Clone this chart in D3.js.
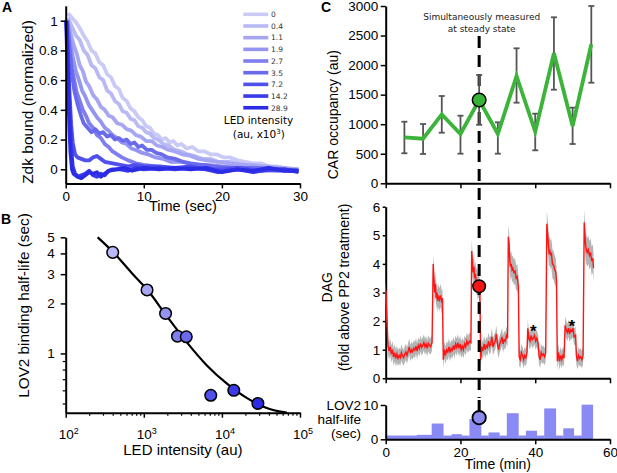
<!DOCTYPE html>
<html><head><meta charset="utf-8">
<script src="https://cdn.jsdelivr.net/npm/d3@7"></script>
<style>body{margin:0;background:#fff} svg{display:block}</style>
</head><body><svg id="c" width="617" height="473"></svg>
<script>
// ---------- DATA ----------
const ledLabels = ["0","0.4","1.1","1.9","2.7","3.5","7.2","14.2","28.9"];
const ledColors = ["#cacaf7","#b9b9f5","#a6a6f3","#9494f1","#7e7eef","#6a6aed","#5050eb","#3a3ae8","#2c2ce6"];
const decay0 = [[0.3,1.05],[0.8,1.02],[1.3,0.99],[1.8,0.95],[2.3,0.9],[2.8,0.86],[3.3,0.8],[3.8,0.78],[4.3,0.72],[4.8,0.7],[5.3,0.64],[5.8,0.62],[6.3,0.56],[6.8,0.54],[7.3,0.48],[7.8,0.46],[8.3,0.41],[8.8,0.39],[9.3,0.35],[9.8,0.33],[10.3,0.29],[10.8,0.28],[11.3,0.24],[11.8,0.23],[12.3,0.2],[12.8,0.21],[13.3,0.18],[13.8,0.19],[14.3,0.16],[14.8,0.17],[15.5,0.14],[16.2,0.15],[17,0.12],[17.8,0.12],[18.6,0.1],[19.4,0.1],[20.2,0.08],[21,0.08],[22,0.06],[23,0.05],[24,0.04],[25,0.04],[26,0.02],[27,0.02],[28,0.01],[29,0.0],[29.8,0.0]];
const decay1 = [[0.3,1.02],[0.8,0.96],[1.3,0.9],[1.8,0.87],[2.3,0.8],[2.8,0.77],[3.3,0.7],[3.8,0.68],[4.3,0.62],[4.8,0.6],[5.3,0.53],[5.8,0.51],[6.3,0.46],[6.8,0.44],[7.3,0.39],[7.8,0.38],[8.3,0.34],[8.8,0.33],[9.3,0.29],[9.8,0.28],[10.3,0.25],[10.8,0.24],[11.3,0.21],[11.8,0.2],[12.5,0.17],[13.2,0.16],[14,0.13],[14.8,0.12],[15.6,0.1],[16.5,0.09],[17.5,0.07],[18.5,0.07],[19.5,0.05],[21,0.05],[22.5,0.03],[24,0.03],[26,0.02],[28,0.01],[29.8,0.0]];
const decay2 = [[0.2,1.0],[0.6,0.92],[1.0,0.84],[1.4,0.78],[1.8,0.7],[2.2,0.66],[2.6,0.59],[3.0,0.56],[3.5,0.5],[4.0,0.47],[4.5,0.42],[5.0,0.4],[5.5,0.36],[6.0,0.35],[6.6,0.31],[7.2,0.3],[7.8,0.27],[8.4,0.26],[9.0,0.23],[9.6,0.22],[10.3,0.19],[11,0.19],[11.7,0.16],[12.4,0.15],[13.2,0.13],[14,0.12],[15,0.1],[16,0.09],[17,0.07],[18,0.06],[19.5,0.05],[21,0.04],[23,0.03],[25,0.02],[27,0.01],[29.8,0.0]];
const decay3 = [[0.2,1.0],[0.5,0.88],[0.9,0.76],[1.3,0.66],[1.7,0.6],[2.1,0.53],[2.5,0.49],[3.0,0.43],[3.5,0.39],[4.0,0.35],[4.5,0.32],[5.0,0.28],[5.5,0.26],[6.0,0.23],[6.6,0.21],[7.2,0.18],[7.8,0.17],[8.4,0.14],[9.0,0.13],[9.8,0.11],[10.6,0.1],[11.5,0.08],[12.5,0.07],[13.5,0.05],[15,0.05],[16.5,0.03],[18,0.03],[20,0.02],[23,0.01],[26,0.01],[29.8,-0.01]];
const decay4 = [[0.2,1.0],[0.5,0.82],[0.8,0.68],[1.1,0.6],[1.4,0.52],[1.8,0.46],[2.2,0.4],[2.6,0.36],[3.0,0.31],[3.5,0.28],[4.0,0.23],[4.5,0.21],[5.0,0.17],[5.5,0.15],[6.0,0.12],[6.6,0.1],[7.2,0.08],[8.0,0.06],[9.0,0.04],[10,0.03],[11.5,0.02],[13,0.01],[16,0.01],[20,0.0],[24,0.0],[27,-0.01],[29.8,-0.01]];
const decay5 = [[0.2,1.0],[0.5,0.8],[0.8,0.64],[1.1,0.53],[1.5,0.44],[1.9,0.37],[2.3,0.31],[2.8,0.28],[3.3,0.25],[3.8,0.27],[4.3,0.24],[4.8,0.25],[5.3,0.22],[5.8,0.23],[6.3,0.2],[6.8,0.21],[7.3,0.19],[7.8,0.2],[8.3,0.17],[8.8,0.18],[9.3,0.15],[9.8,0.16],[10.4,0.13],[11,0.13],[11.6,0.11],[12.3,0.1],[13,0.08],[14,0.07],[15,0.05],[16,0.04],[17.5,0.03],[19,0.02],[21,0.01],[24,0.01],[27,0.0],[29.8,-0.01]];
const decay6 = [[0.1,1.0],[0.3,0.75],[0.5,0.5],[0.7,0.3],[0.9,0.18],[1.2,0.1],[1.5,0.08],[2.0,0.07],[2.5,0.06],[3.0,0.06],[3.5,0.08],[4.0,0.09],[4.5,0.07],[5.0,0.05],[6.0,0.04],[7.0,0.03],[8.0,0.02],[9,0.03],[10,0.02],[12,0.02],[14,0.01],[16,0.02],[18,0.0],[20,0.0],[22,0.01],[25,-0.01],[28,0.0],[29.8,-0.01]];
const decay7 = [[0.1,1.0],[0.3,0.7],[0.5,0.4],[0.7,0.15],[0.9,0.02],[1.2,-0.03],[1.6,-0.05],[2.0,-0.04],[2.5,-0.03],[3.0,-0.01],[3.5,-0.04],[4.0,-0.05],[4.5,-0.03],[5.0,-0.04],[5.5,-0.01],[6,0.0],[7,0.0],[8,-0.01],[9,0.01],[10,0.0],[12,0.01],[14,0.0],[16,0.01],[18,0.0],[19.5,-0.02],[20.5,-0.01],[22,0.0],[24,-0.02],[26,0.0],[28,0.0],[29.8,-0.02]];
const decay8 = [[0.05,1.0],[0.2,0.75],[0.4,0.4],[0.6,0.12],[0.8,0.0],[1.0,-0.03],[1.5,-0.05],[2.0,-0.06],[2.5,-0.04],[3.0,-0.02],[3.5,-0.03],[4.0,-0.02],[4.5,-0.05],[5.0,-0.03],[5.5,-0.01],[6.5,0.0],[7.5,0.01],[8.5,-0.01],[10,0.01],[12,0.0],[14,0.01],[16,0.0],[18,0.01],[20,-0.02],[22,0.0],[24,-0.01],[26,0.01],[28,-0.01],[29.8,-0.01]];
const decayCurves = [decay0,decay1,decay2,decay3,decay4,decay5,decay6,decay7,decay8];

const ledIntensity = [400,1100,1900,2700,3500,7200,14200,28900];
const halfLife = [4.06,2.41,1.74,1.27,1.26,0.56,0.60,0.50];
const fitLED = [257,400,700,1122,1963,3540,6380,11500,20750,37500,67600];
const fitHalfLife = [5.0,4.1,3.05,2.4,1.68,1.17,0.85,0.66,0.54,0.47,0.44];

const carTime = [5,10,15,20,25,30,35,40,45,50,55];
const carMean = [778,755,1167,834,1409,834,1816,873,2200,970,2352];
const carHi = [1042,1003,1477,1144,1832,1032,2284,1178,2809,1280,3000];
const carLo = [508,496,856,501,990,501,1364,558,1584,665,1702];

const dagTrace = [[0,3.1,0.3],[0.3,2.2,0.3],[0.6,1.15,0.3],[0.9,0.95,0.3],[1.2,1.1,0.3],[1.5,0.85,0.3],[1.8,1.0,0.3],[2.1,0.75,0.3],[2.4,0.9,0.3],[2.7,0.7,0.3],[3.0,0.85,0.3],[3.3,0.7,0.28],[3.6,0.8,0.28],[3.9,0.72,0.28],[4.2,0.9,0.28],[4.5,0.78,0.28],[4.8,0.72,0.28],[5.1,0.85,0.28],[5.4,0.92,0.28],[5.7,0.8,0.28],[6.0,0.95,0.28],[6.3,1.1,0.28],[6.6,0.88,0.28],[6.9,1.0,0.28],[7.2,0.93,0.28],[7.5,1.05,0.28],[7.8,0.98,0.28],[8.1,1.12,0.28],[8.4,0.95,0.28],[8.7,1.15,0.28],[9.0,1.05,0.28],[9.3,1.22,0.28],[9.6,1.08,0.28],[9.9,1.15,0.28],[10.2,1.25,0.28],[10.5,1.1,0.28],[10.8,1.2,0.28],[11.1,1.05,0.28],[11.4,1.22,0.28],[11.7,1.15,0.28],[12.0,1.1,0.28],[12.4,1.25,0.28],
[12.7,4.0,0.35],[12.9,3.5,0.4],[13.1,3.0,0.4],[13.3,3.3,0.4],[13.5,2.8,0.4],[13.7,3.0,0.4],[13.9,2.7,0.4],[14.1,2.9,0.4],[14.4,2.75,0.4],[14.7,2.9,0.4],[15.0,2.65,0.4],[15.2,2.8,0.35],
[15.4,0.65,0.3],[15.7,1.0,0.3],[16.0,0.8,0.3],[16.3,1.0,0.3],[16.6,0.92,0.3],[16.9,1.1,0.3],[17.2,0.9,0.3],[17.5,1.05,0.3],[17.8,0.98,0.3],[18.1,1.15,0.3],[18.4,1.0,0.3],[18.7,1.2,0.3],[19.0,1.08,0.3],[19.3,1.25,0.3],[19.6,1.05,0.3],[19.9,1.2,0.3],[20.2,1.0,0.3],[20.5,1.12,0.3],[20.8,1.0,0.3],[21.1,1.2,0.3],[21.4,1.1,0.3],[21.7,1.3,0.3],[22.0,1.18,0.3],[22.4,1.3,0.3],[22.8,1.25,0.3],
[23.0,4.45,0.4],[23.2,4.0,0.45],[23.4,3.7,0.45],[23.6,3.9,0.45],[23.8,3.5,0.45],[24.0,3.65,0.45],[24.2,3.35,0.45],[24.4,3.45,0.45],[24.6,3.2,0.45],[24.8,3.3,0.45],[25.0,3.2,0.45],[25.2,3.0,0.4],
[25.4,0.65,0.3],[25.7,1.1,0.3],[26.0,0.95,0.3],[26.3,1.2,0.3],[26.6,1.0,0.3],[26.9,1.15,0.3],[27.2,1.08,0.3],[27.5,1.3,0.3],[27.8,1.12,0.3],[28.1,1.2,0.3],[28.4,1.45,0.3],[28.7,1.1,0.3],[29.0,1.22,0.3],[29.3,1.3,0.3],[29.6,1.55,0.3],[29.9,1.2,0.3],[30.2,1.0,0.3],[30.5,1.2,0.3],[30.8,1.3,0.3],[31.1,1.45,0.3],[31.4,1.2,0.3],[31.7,1.35,0.3],[32.0,1.3,0.3],[32.3,1.5,0.3],[32.6,1.4,0.3],
[32.8,4.95,0.4],[33.0,4.7,0.45],[33.2,4.1,0.45],[33.4,3.9,0.45],[33.6,4.0,0.45],[33.8,3.8,0.45],[34.0,3.85,0.45],[34.3,3.7,0.45],[34.6,3.75,0.45],[34.9,3.5,0.45],[35.2,3.55,0.45],[35.5,3.2,0.4],
[35.7,0.75,0.3],[36.0,0.65,0.3],[36.3,0.9,0.3],[36.6,0.8,0.3],[36.9,0.65,0.3],[37.2,0.8,0.3],[37.5,0.72,0.3],[37.8,0.9,0.3],
[38.0,1.75,0.3],[38.3,1.4,0.3],[38.6,1.3,0.3],[38.9,1.5,0.3],[39.2,1.35,0.3],[39.5,1.4,0.3],[39.8,1.5,0.3],[40.1,1.3,0.3],[40.4,1.4,0.3],[40.8,1.2,0.3],
[41.0,0.8,0.3],[41.3,0.65,0.3],[41.6,0.9,0.3],[41.9,0.8,0.3],[42.2,0.85,0.3],[42.5,0.75,0.3],[42.8,0.9,0.3],
[43.1,5.4,0.45],[43.3,5.1,0.5],[43.5,4.7,0.5],[43.7,4.4,0.5],[43.9,4.45,0.5],[44.1,4.3,0.5],[44.3,4.4,0.5],[44.6,4.0,0.5],[44.9,3.95,0.5],[45.2,3.8,0.5],[45.5,3.7,0.5],[45.7,3.4,0.45],
[45.9,0.6,0.3],[46.2,0.9,0.3],[46.5,0.6,0.3],[46.8,0.8,0.3],[47.1,0.65,0.3],[47.4,0.8,0.3],[47.7,0.7,0.3],
[48.0,1.85,0.3],[48.3,1.7,0.3],[48.6,1.6,0.3],[48.9,1.75,0.3],[49.2,1.55,0.3],[49.5,1.7,0.3],[49.8,1.65,0.3],[50.1,1.75,0.3],[50.4,1.45,0.3],[50.8,1.5,0.3],
[51.0,0.8,0.3],[51.3,0.6,0.3],[51.6,0.8,0.3],[51.9,0.7,0.3],[52.2,0.75,0.3],[52.5,0.65,0.3],[52.8,0.8,0.3],
[53.1,5.45,0.45],[53.3,5.0,0.5],[53.5,4.6,0.5],[53.7,4.5,0.5],[53.9,4.4,0.5],[54.2,4.5,0.5],[54.5,4.3,0.5],[54.8,4.4,0.5],[55.1,4.1,0.5],[55.4,4.2,0.5],[55.6,3.85,0.5]];
const dagMarkerValue = 3.22;
const starTime = [39.5, 49.8];
const starValue = [1.78, 1.98];

const lovStart = [0,8.3,12.3,15.4,17.65,20.3,22.4,25.5,27.5,30.4,32.4,35.5,37.5,40.4,42.4,45.5,47.5,50.3,52.4];
const lovEnd   = [8.3,12.3,15.4,17.65,20.3,22.4,25.5,27.5,30.4,32.4,35.5,37.5,40.4,42.4,45.5,47.5,50.3,52.4,55.4];
const lovValue = [1.1,1.3,4.6,1.1,1.5,1.1,5.9,1.1,2.0,1.1,7.6,1.1,2.5,1.1,9.0,1.1,3.2,1.1,10.1];
const lovMarkerValue = 6.3;
const markerTime = 25;

// ---------- DRAWING ----------
const svg = d3.select("#c");
const SANS = "'Liberation Sans', Arial, sans-serif";
const DV = "'DejaVu Sans', Verdana, sans-serif";

function styleAxis(g, fs) {
  g.attr("font-family", SANS).attr("font-size", fs);
  g.select(".domain").attr("stroke", "#000").attr("stroke-width", 2);
  g.selectAll(".tick line").attr("stroke", "#000").attr("stroke-width", 1.5);
  g.selectAll(".tick text").attr("fill", "#000");
}
function label(x, y, txt, opts = {}) {
  const t = svg.append("text").attr("x", x).attr("y", y).text(txt)
    .attr("font-family", opts.font || SANS).attr("font-size", opts.size || 15)
    .attr("text-anchor", opts.anchor || "middle").attr("fill", opts.fill || "#000");
  if (opts.weight) t.attr("font-weight", opts.weight);
  if (opts.rotate) t.attr("transform", `rotate(-90,${x},${y})`);
  return t;
}
const intFmt = d => String(d);

// Panel letters
label(2, 12, "A", {size: 14, weight: "bold", anchor: "start"});
label(1, 224, "B", {size: 14, weight: "bold", anchor: "start"});
label(321, 12, "C", {size: 14, weight: "bold", anchor: "start"});

// ===== Panel A =====
const xA = d3.scaleLinear().domain([0, 30]).range([65.7, 300]);
const yA = d3.scaleLinear().domain([-0.095, 1.1]).range([183.4, 5.84]);
const lineA = d3.line().x(d => xA(d[0])).y(d => yA(d[1])).curve(d3.curveLinear);
decayCurves.forEach((c, i) => {
  svg.append("path").datum(c).attr("d", lineA).attr("fill", "none")
    .attr("stroke", ledColors[i]).attr("stroke-width", 3.8).attr("stroke-linejoin", "round");
});
const gAx = svg.append("g").attr("transform", `translate(0,${yA.range()[0]})`)
  .call(d3.axisBottom(xA).tickValues([0,10,20,30]).tickFormat(intFmt).tickSize(5).tickSizeOuter(0).tickPadding(3.5));
styleAxis(gAx, 13.5);
const gAy = svg.append("g").attr("transform", `translate(${xA.range()[0]},0)`)
  .call(d3.axisLeft(yA).tickValues([0,0.2,0.4,0.6,0.8,1]).tickFormat(d => d === 0 ? "0" : d === 1 ? "1" : d3.format(".1f")(d)).tickSize(5).tickSizeOuter(0).tickPadding(3));
styleAxis(gAy, 13.5);
label(182.9, 211, "Time (sec)", {size: 14.5});
label(33, 102, "Zdk bound (normalized)", {size: 15.5, rotate: true});

// Legend
ledLabels.forEach((l, i) => {
  const y = 14.3 + i * 11.68;
  svg.append("line").attr("x1", 243.3).attr("x2", 268.3).attr("y1", y).attr("y2", y)
    .attr("stroke", ledColors[i]).attr("stroke-width", 3.6);
  label(271, y + 2.8, l, {size: 7.5, font: DV, anchor: "start", fill: "#333"});
});
label(258.5, 123.5, "LED intensity", {size: 10.5, font: DV});
const t2 = label(258.8, 137.5, "(au, x10", {size: 10.5, font: DV});
t2.append("tspan").attr("baseline-shift", "super").attr("font-size", 7).text("3");
t2.append("tspan").text(")");

// ===== Panel B =====
const xB = d3.scaleLog().domain([100, 1e5]).range([65.7, 300]);
const yB = d3.scaleLog().domain([0.44, 5]).range([412.7, 237.3]);
const majorsB = [1e2, 1e3, 1e4, 1e5];
const minorsB = [];
[1e2, 1e3, 1e4].forEach(d => { for (let k = 2; k <= 9; k++) minorsB.push(d * k); });
const gBx = svg.append("g").attr("transform", `translate(0,${yB.range()[0]})`)
  .call(d3.axisBottom(xB).tickValues(majorsB.concat(minorsB)).tickFormat("").tickSize(5).tickSizeOuter(0));
styleAxis(gBx, 13.5);
gBx.selectAll(".tick").filter(d => !majorsB.includes(d)).select("line").attr("y2", 3).attr("stroke-width", 1.2);
majorsB.forEach(d => {
  const t = label(xB(d) + 3, 439, "10", {size: 13.5});
  t.append("tspan").attr("baseline-shift", "super").attr("font-size", 9).text(String(Math.round(Math.log10(d))));
});
const majorsBy = [1, 2, 3, 4, 5];
const minorsBy = [0.5, 0.6, 0.7, 0.8, 0.9];
const gBy = svg.append("g").attr("transform", `translate(${xB.range()[0]},0)`)
  .call(d3.axisLeft(yB).tickValues(majorsBy.concat(minorsBy)).tickFormat(d => majorsBy.includes(d) ? String(d) : "").tickSize(5).tickSizeOuter(0).tickPadding(6));
styleAxis(gBy, 13.5);
gBy.selectAll(".tick").filter(d => !majorsBy.includes(d)).select("line").attr("x2", -3).attr("stroke-width", 1.2);
svg.append("path").datum(fitLED.map((l, i) => [l, fitHalfLife[i]]))
  .attr("d", d3.line().x(d => xB(d[0])).y(d => yB(d[1])).curve(d3.curveMonotoneX))
  .attr("fill", "none").attr("stroke", "#000").attr("stroke-width", 2.2);
svg.selectAll(".ptB").data(ledIntensity).enter().append("circle")
  .attr("cx", d => xB(d)).attr("cy", (d, i) => yB(halfLife[i])).attr("r", 5.8)
  .attr("fill", (d, i) => ledColors[i + 1]).attr("stroke", "#000").attr("stroke-width", 1.5);
label(182.9, 455, "LED intensity (au)", {size: 15});
label(29, 305.5, "LOV2 binding half-life (sec)", {size: 15.3, rotate: true});

// ===== Panel C =====
const xC = d3.scaleLinear().domain([0, 60]).range([385.7, 610]);
const yC1 = d3.scaleLinear().domain([0, 3000]).range([183.3, 6]);
const yC2 = d3.scaleLinear().domain([0, 6]).range([378.3, 206.7]);
const yC3 = d3.scaleLinear().domain([0, 10]).range([439.3, 405]);

// top: CAR occupancy
const g1x = svg.append("g").attr("transform", `translate(0,${yC1.range()[0]})`)
  .call(d3.axisBottom(xC).tickValues([0,20,40,60]).tickFormat("").tickSize(5).tickSizeOuter(0));
styleAxis(g1x, 13.5);
const g1y = svg.append("g").attr("transform", `translate(${xC.range()[0]},0)`)
  .call(d3.axisLeft(yC1).tickValues([0,500,1000,1500,2000,2500,3000]).tickFormat(intFmt).tickSize(5).tickSizeOuter(0).tickPadding(2.5));
styleAxis(g1y, 13.5);
label(338, 114.7, "CAR occupancy (au)", {size: 14, rotate: true});

// middle: DAG
const g2x = svg.append("g").attr("transform", `translate(0,${yC2.range()[0]})`)
  .call(d3.axisBottom(xC).tickValues([0,20,40,60]).tickFormat("").tickSize(5).tickSizeOuter(0));
styleAxis(g2x, 13.5);
const g2y = svg.append("g").attr("transform", `translate(${xC.range()[0]},0)`)
  .call(d3.axisLeft(yC2).tickValues([0,1,2,3,4,5,6]).tickFormat(intFmt).tickSize(3).tickSizeOuter(0).tickPadding(2.5));
styleAxis(g2y, 13.5);
label(332, 287.3, "DAG", {size: 14, rotate: true});
label(349, 287.3, "(fold above PP2 treatment)", {size: 14, rotate: true});

svg.append("path").datum(dagTrace)
  .attr("d", d3.area().x(d => xC(d[0])).y0(d => yC2(Math.max(0, d[1] - d[2]))).y1(d => yC2(d[1] + d[2])))
  .attr("fill", "#b4b4b4");
svg.append("path").datum(dagTrace)
  .attr("d", d3.line().x(d => xC(d[0])).y(d => yC2(d[1])))
  .attr("fill", "none").attr("stroke", "#ff1414").attr("stroke-width", 1.4);
starTime.forEach((t, i) => {
  label(xC(t), yC2(starValue[i]) + 10, "*", {size: 17, weight: "bold"});
});

// bottom: LOV2 half-life
svg.selectAll(".barC").data(lovValue).enter().append("rect")
  .attr("x", (d, i) => xC(lovStart[i])).attr("width", (d, i) => xC(lovEnd[i]) - xC(lovStart[i]) + 0.3)
  .attr("y", d => yC3(d)).attr("height", d => yC3(0) - yC3(d)).attr("fill", "#8a8af4");
const g3x = svg.append("g").attr("transform", `translate(0,${yC3.range()[0]})`)
  .call(d3.axisBottom(xC).tickValues([0,20,40,60]).tickFormat(intFmt).tickSize(5).tickSizeOuter(0).tickPadding(3));
styleAxis(g3x, 13.5);
const g3y = svg.append("g").attr("transform", `translate(${xC.range()[0]},0)`)
  .call(d3.axisLeft(yC3).tickValues([0,10]).tickFormat(intFmt).tickSize(5).tickSizeOuter(0).tickPadding(2.5));
styleAxis(g3y, 13.5);
label(xC(30), 468.5, "Time (min)", {size: 14});
label(361, 410, "LOV2", {size: 13.5, anchor: "end"});
label(361, 424, "half-life", {size: 13.5, anchor: "end"});
label(361, 438, "(sec)", {size: 13.5, anchor: "end"});

// steady-state marker line
const xm = xC(markerTime);
svg.append("line").attr("x1", xm).attr("x2", xm).attr("y1", 36).attr("y2", 398)
  .attr("stroke", "#000").attr("stroke-width", 3).attr("stroke-dasharray", "12,7");
svg.append("line").attr("x1", xm).attr("x2", xm).attr("y1", 400).attr("y2", yC3(lovMarkerValue))
  .attr("stroke", "#000").attr("stroke-width", 3);

// green line & error bars
const gErr = svg.append("g");
carTime.forEach((t, i) => {
  const x = xC(t);
  gErr.append("line").attr("x1", x).attr("x2", x).attr("y1", yC1(carLo[i])).attr("y2", yC1(carHi[i]));
  gErr.append("line").attr("x1", x - 3).attr("x2", x + 3).attr("y1", yC1(carLo[i])).attr("y2", yC1(carLo[i]));
  gErr.append("line").attr("x1", x - 3).attr("x2", x + 3).attr("y1", yC1(carHi[i])).attr("y2", yC1(carHi[i]));
});
gErr.selectAll("line").attr("stroke", "#555").attr("stroke-width", 1.8);
svg.append("path").datum(carTime.map((t, i) => [t, carMean[i]]))
  .attr("d", d3.line().x(d => xC(d[0])).y(d => yC1(d[1])))
  .attr("fill", "none").attr("stroke", "#3cb43a").attr("stroke-width", 3.8).attr("stroke-linejoin", "miter");

// markers
svg.append("circle").attr("cx", xm).attr("cy", yC1(carMean[carTime.indexOf(markerTime)])).attr("r", 6.8)
  .attr("fill", "#36b436").attr("stroke", "#000").attr("stroke-width", 1.5);
svg.append("circle").attr("cx", xm).attr("cy", yC2(dagMarkerValue)).attr("r", 6.3)
  .attr("fill", "#f41616").attr("stroke", "#000").attr("stroke-width", 1.5);
svg.append("circle").attr("cx", xm).attr("cy", yC3(lovMarkerValue)).attr("r", 6.7)
  .attr("fill", "#8a8af0").attr("stroke", "#000").attr("stroke-width", 1.8);

label(481.7, 20, "Simultaneously measured", {size: 9, font: DV, fill: "#222"});
label(481.7, 31.5, "at steady state", {size: 9, font: DV, fill: "#222"});
</script></body></html>
